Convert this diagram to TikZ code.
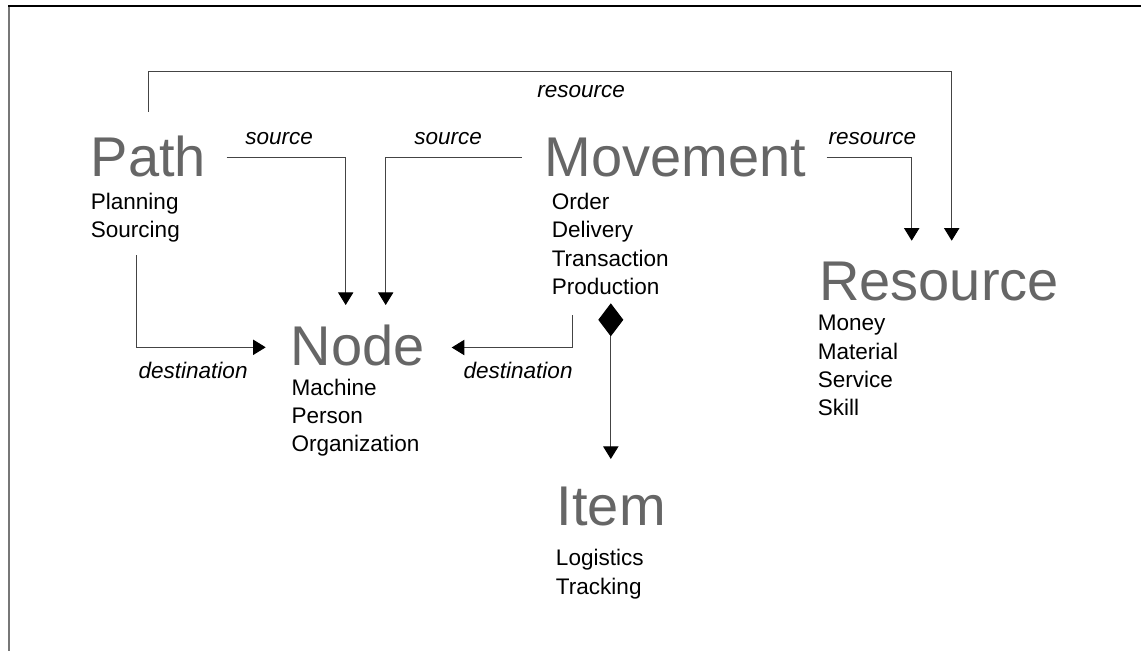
\documentclass[tikz,border=0pt]{standalone}
\usepackage{fontspec}
\setmainfont{Liberation Sans}
\usetikzlibrary{arrows.meta}
\definecolor{titlegray}{HTML}{666666}
\definecolor{linegray}{HTML}{444444}
\definecolor{framegray}{HTML}{777777}
% stacked list of facets under a concept name; baseline = first line
\newcommand\facetlist[1]{\vtop{\baselineskip=21.3pt\lineskiplimit=-10pt #1}}

\begin{document}
\begin{tikzpicture}[x=0.75pt,y=-0.75pt,
  concept/.style={anchor=base west, inner sep=0pt, text=titlegray,
    font=\fontsize{42}{46}\selectfont},
  facets/.style={anchor=base west, inner sep=0pt,
    font=\fontsize{16.9}{21.3}\selectfont},
  role/.style={anchor=base west, inner sep=0pt,
    font=\fontsize{16.9}{20}\selectfont\itshape},
  link/.style={draw=linegray, line width=0.75pt,
    -{Triangle[length=9.5pt,width=11.5pt,color=black]}},
  comp/.style={draw=linegray, line width=0.75pt,
    {Diamond[length=24.75pt,width=18.75pt,color=black]}-{Triangle[length=9.5pt,width=11.5pt,color=black]}},
]
\useasboundingbox (0,0) rectangle (1141,651);

% frame
\draw[framegray, line width=1.5pt] (9,6) -- (9,651);
\draw[black, line width=1pt] (8,6) -- (1141,6);

% concepts
\node[concept] (path) at (90.5,176.7) {Path};
\node[facets] (pathf) at (90.6,209.3) {\facetlist{\hbox{Planning}\hbox{Sourcing}}};

\node[concept] (move) at (544.5,176) {Movement};
\node[facets] (movef) at (551.5,209.3) {\facetlist{\hbox{Order}\hbox{Delivery}\hbox{Transaction}\hbox{Production}}};

\node[concept] (node) at (290.5,365) {Node};
\node[facets] (nodef) at (291.3,395) {\facetlist{\hbox{Machine}\hbox{Person}\hbox{Organization}}};

\node[concept] (res) at (819,300) {Resource};
\node[facets] (resf) at (817.6,330.7) {\facetlist{\hbox{Money}\hbox{Material}\hbox{Service}\hbox{Skill}}};

\node[concept] (item) at (556.5,525) {Item};
\node[facets] (itemf) at (555.7,565.7) {\facetlist{\hbox{Logistics}\hbox{Tracking}}};

% connector end points
\coordinate (pathTop)   at (148.3,111.7);
\coordinate (pathSrc)   at (226.7,157.7);
\coordinate (pathDst)   at (136.7,255);
\coordinate (nodeInA)   at (345.7,305);
\coordinate (nodeInB)   at (385.7,305);
\coordinate (nodeLeft)  at (265.7,347.3);
\coordinate (nodeRight) at (451.7,347.5);
\coordinate (moveSrc)   at (521.7,157.7);
\coordinate (moveRes)   at (826.7,157.7);
\coordinate (moveDst)   at (572.3,315);
\coordinate (moveComp)  at (610.8,303.3);
\coordinate (resInA)    at (911.7,240.7);
\coordinate (resInB)    at (951.7,240.7);
\coordinate (itemIn)    at (610.8,459);

% connectors
\draw[link] (pathTop) |- (951.7,71.3) -- (resInB);
\draw[link] (pathSrc) -| (nodeInA);
\draw[link] (moveSrc) -| (nodeInB);
\draw[link] (moveRes) -| (resInA);
\draw[link] (pathDst) |- (nodeLeft);
\draw[link] (moveDst) |- (nodeRight);
\draw[comp] (moveComp) -- (itemIn);

% role labels
\node[role] (lblRes)   at (537,97)      {resource};
\node[role] (lblSrcA)  at (245,144.3)   {source};
\node[role] (lblSrcB)  at (414,144.3)   {source};
\node[role] (lblResB)  at (828.3,144.3) {resource};
\node[role] (lblDstA)  at (138.3,378.3) {destination};
\node[role] (lblDstB)  at (463.3,378.3) {destination};
\end{tikzpicture}
\end{document}
